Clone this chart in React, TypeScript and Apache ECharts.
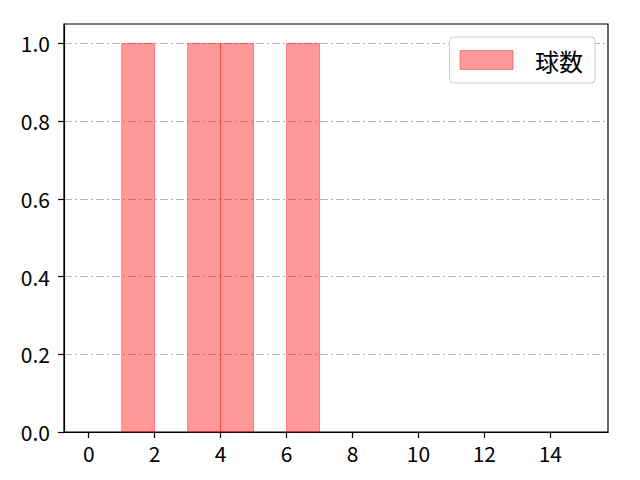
import React, { useEffect, useRef } from 'react';
import * as echarts from 'echarts';

// histogram bins: [start, end)
const binStarts = [0, 1, 2, 3, 4, 5, 6, 7, 8, 9, 10, 11, 12, 13, 14];
const binEnds = [1, 2, 3, 4, 5, 6, 7, 8, 9, 10, 11, 12, 13, 14, 15];
const counts = [0, 1, 0, 1, 1, 0, 1, 0, 0, 0, 0, 0, 0, 0, 0];

const xTicks = [0, 2, 4, 6, 8, 10, 12, 14];
const yTicks = [0, 0.2, 0.4, 0.6, 0.8, 1.0];

const SERIES_NAME = '球数';
const FONT = '"Noto Sans CJK JP", "DejaVu Sans", sans-serif';
const FILL = 'rgba(255, 0, 0, 0.4)';

const App = (): JSX.Element => {
  const divEL = useRef<HTMLDivElement>(null);

  useEffect(() => {
    document.body.style.margin = '0';
    const instance = echarts.init(divEL.current as any, null, { renderer: 'svg' });

    const data = binStarts
      .map((s, i) => [s, binEnds[i], counts[i]])
      .filter((d) => d[2] > 0);

    const option: echarts.EChartsOption = {
      animation: false,
      backgroundColor: '#ffffff',
      textStyle: { fontFamily: FONT },
      grid: {
        left: 64,
        right: 32,
        top: 24,
        bottom: 48,
        show: true,
        borderColor: '#000',
        borderWidth: 1.2,
        backgroundColor: 'transparent',
      },
      legend: {
        show: true,
        right: 45,
        top: 37,
        orient: 'vertical',
        backgroundColor: '#fff',
        borderColor: '#cccccc',
        borderWidth: 1,
        borderRadius: 4,
        padding: [11, 12, 11, 10],
        itemWidth: 53,
        itemHeight: 19,
        icon: 'rect',
        textStyle: {
          fontFamily: FONT,
          fontSize: 24,
          color: '#000',
          padding: [0, 0, 0, 17],
        },
        data: [
          {
            name: SERIES_NAME,
            itemStyle: { color: FILL, borderColor: FILL, borderWidth: 1 },
          },
        ],
      },
      xAxis: {
        type: 'value',
        min: -0.75,
        max: 15.75,
        splitLine: { show: false },
        axisLine: { show: true, onZero: false, lineStyle: { color: '#000', width: 1.2 } },
        axisTick: {
          show: true,
          length: 6,
          customValues: xTicks,
          lineStyle: { color: '#000', width: 1.2 },
        },
        axisLabel: {
          customValues: xTicks,
          color: '#000',
          fontSize: 21,
          fontFamily: FONT,
          margin: 10,
        },
      },
      yAxis: {
        type: 'value',
        min: 0,
        max: 1.05,
        interval: 0.2,
        axisLine: { show: true, onZero: false, lineStyle: { color: '#000', width: 1.2 } },
        axisTick: {
          show: true,
          length: 6,
          customValues: yTicks,
          lineStyle: { color: '#000', width: 1.2 },
        },
        axisLabel: {
          customValues: yTicks,
          color: '#000',
          fontSize: 21,
          fontFamily: FONT,
          margin: 14,
          formatter: (v: number) => v.toFixed(1),
        },
        splitLine: {
          show: true,
          lineStyle: { color: '#b0b0b0', width: 0.9, type: [8, 3, 2, 3] },
        },
      },
      series: [
        {
          name: SERIES_NAME,
          type: 'custom',
          data,
          encode: { x: [0, 1], y: 2 },
          renderItem: (params: any, api: any) => {
            const p0 = api.coord([api.value(0), api.value(2)]);
            const p1 = api.coord([api.value(1), 0]);
            return {
              type: 'rect',
              shape: { x: p0[0], y: p0[1], width: p1[0] - p0[0], height: p1[1] - p0[1] },
              style: { fill: FILL, stroke: FILL, lineWidth: 1 },
            };
          },
          itemStyle: { color: FILL },
        },
      ],
    };

    instance.setOption(option);

    return () => {
      instance.dispose();
    };
  }, []);

  return <div ref={divEL} style={{ width: 640, height: 480 }}></div>;
};

export default App;
